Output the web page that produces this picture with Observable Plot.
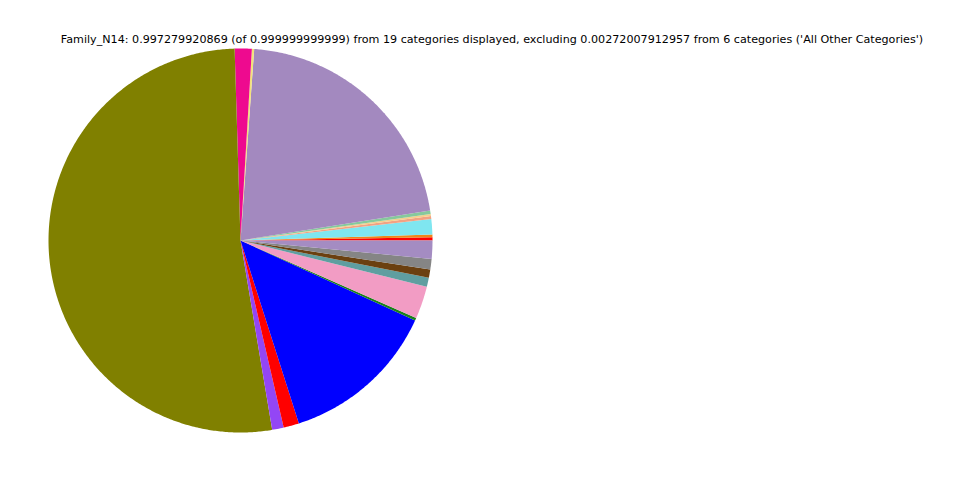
<!DOCTYPE html>
<html>
<head>
<meta charset="utf-8">
<script src="https://cdn.jsdelivr.net/npm/d3@7"></script>
<script src="https://cdn.jsdelivr.net/npm/@observablehq/plot@0.6"></script>
<style>
  html, body { margin: 0; padding: 0; background: #fff; }
  #wrap { position: relative; width: 960px; height: 480px; }
  #title { position: absolute; top: 33px; left: 0; width: 984px; text-align: center;
           font-family: "DejaVu Sans", sans-serif; font-size: 11.15px; color: #000; white-space: nowrap; }
  #chart { position: absolute; top: 0; left: 0; }
</style>
</head>
<body>
<div id="wrap">
  <div id="chart"></div>
  <div id="title">Family_N14: 0.997279920869 (of 0.999999999999) from 19 categories displayed, excluding 0.00272007912957 from 6 categories ('All Other Categories')</div>
</div>
<script>
// Categories in counter-clockwise order starting at 3 o'clock
const categories = ["cat01","cat02","cat03","cat04","cat05","cat06","cat07","cat08","cat09","cat10",
                    "cat11","cat12","cat13","cat14","cat15","cat16","cat17","cat18","cat19"];
const shares = [0.00278, 0.00222, 0.01278, 0.00250, 0.00167, 0.00306, 0.21361, 0.00194, 0.01433, 0.52150,
                0.00972, 0.01306, 0.13250, 0.00222, 0.02736, 0.00764, 0.00694, 0.00889, 0.01528];
const colors = ["#ff0000","#f0861a","#7fe6f0","#f2a283","#f5cf8c","#86c99c","#a389bf","#f2e27a","#ee0a8f","#808000",
                "#9346f5","#ff0000","#0000ff","#1a801a","#f29cc4","#5f9ea0","#6b4010","#858585","#a48cc2"];

const total = d3.sum(shares);
const points = [];
let acc = 0;
categories.forEach((c, i) => {
  const a0 = acc / total * 2 * Math.PI;
  acc += shares[i];
  const a1 = acc / total * 2 * Math.PI;
  const n = Math.max(2, Math.ceil((a1 - a0) / (Math.PI / 360)));
  points.push({name: c, x: 0, y: 0});
  for (let k = 0; k <= n; k++) {
    const t = a0 + (a1 - a0) * k / n;
    points.push({name: c, x: Math.cos(t), y: Math.sin(t)});
  }
});

const chart = Plot.plot({
  width: 960,
  height: 480,
  marginLeft: 48,
  marginRight: 528,
  marginTop: 48,
  marginBottom: 48,
  x: {domain: [-1, 1], axis: null},
  y: {domain: [-1, 1], axis: null},
  color: {type: "ordinal", domain: categories, range: colors},
  marks: [
    Plot.line(points, {x: "x", y: "y", z: "name", fill: "name", stroke: null, curve: "linear-closed"})
  ]
});
document.getElementById("chart").appendChild(chart);
</script>
</body>
</html>
